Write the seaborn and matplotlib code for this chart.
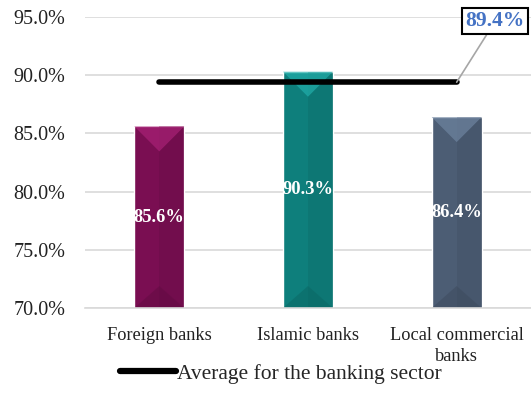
import matplotlib
matplotlib.use("Agg")
import matplotlib.pyplot as plt
import matplotlib.colors as mcolors
from matplotlib.patches import Polygon
from matplotlib.lines import Line2D
import seaborn as sns
import pandas as pd

categories = ["Foreign banks", "Islamic banks", "Local commercial\nbanks"]
values = [85.6, 90.3, 86.4]
sector_average = 89.4
bar_colors = ["#7A0E52", "#0E7F7C", "#4C5D74"]
yticks = [70, 75, 80, 85, 90, 95]

sns.set_theme(style="white")
plt.rcParams["font.family"] = ["Liberation Serif", "DejaVu Serif"]

df = pd.DataFrame({"category": categories, "value": values})

fig = plt.figure(figsize=(5.31, 4.17), dpi=100)
ax = fig.add_axes([0.160, 0.2614, 0.840, 0.6978])

sns.barplot(data=df, x="category", y="value", hue="category",
            palette=bar_colors, width=0.335, ax=ax, legend=False,
            zorder=2, saturation=1)

ax.set_ylim(70, 95)
ax.set_xlim(-0.5, 2.5)
ax.set_yticks(yticks)
ax.set_yticklabels([f"{t:.1f}%" for t in yticks], fontsize=14.5, color="#222222")
ax.set_xticks(range(len(categories)))
ax.set_xticklabels(categories, fontsize=13.2, color="#222222", linespacing=1.3)
ax.tick_params(axis="x", length=0, pad=14)
ax.tick_params(axis="y", length=0, pad=14)
ax.set_xlabel("")
ax.set_ylabel("")
ax.yaxis.grid(True, color="#D9D9D9", linewidth=1.2, zorder=0)
for s in ["top", "right", "left"]:
    ax.spines[s].set_visible(False)
ax.spines["bottom"].set_color("#D9D9D9")
ax.spines["bottom"].set_linewidth(1.2)

# bevelled look for each bar
fig.canvas.draw()
to_data = ax.transData.inverted()
for patch, col in zip(ax.patches, bar_colors):
    x0, w, h = patch.get_x(), patch.get_width(), patch.get_height()
    x1 = x0 + w
    xm = x0 + w / 2
    y0 = 70
    y1 = h
    # bevel depth in display pixels
    py_top = ax.transData.transform((xm, y1))[1]
    py_bot = ax.transData.transform((xm, y0))[1]
    d_top = to_data.transform((0, py_top - 25))[1]
    d_bot = to_data.transform((0, py_bot + 22))[1]
    base = mcolors.to_rgb(col)
    light = tuple(min(1, c * 1.25 + 0.06) for c in base)
    dark = tuple(c * 0.8 for c in base)
    ax.add_patch(Polygon([(xm, y0), (x1, y0), (x1, y1), (xm, y1)],
                         closed=True, facecolor=dark, alpha=0.3,
                         edgecolor="none", zorder=2.1))
    ax.add_patch(Polygon([(x0, y1), (x1, y1), (xm, d_top)], closed=True,
                         facecolor=light, alpha=0.7, edgecolor="none", zorder=2.2))
    ax.add_patch(Polygon([(x0, y0), (x1, y0), (xm, d_bot)], closed=True,
                         facecolor=dark, alpha=0.5, edgecolor="none", zorder=2.2))
    ax.text(xm, (y1 + y0) / 2, f"{y1:.1f}%", ha="center", va="center",
            color="white", fontsize=13.3, fontweight="bold", zorder=4)

# banking sector average line
ax.plot([0, 2], [sector_average, sector_average], color="black",
        linewidth=4, solid_capstyle="round", zorder=3)
ax.annotate(f"{sector_average:.1f}%", xy=(2, sector_average),
            xytext=(2.26, 94.66), textcoords="data",
            ha="center", va="center", fontsize=15.5, fontweight="bold",
            color="#4472C4", annotation_clip=False,
            bbox=dict(boxstyle="square,pad=0.15", facecolor="white",
                      edgecolor="black", linewidth=1.5),
            arrowprops=dict(arrowstyle="-", color="#A6A6A6", linewidth=1.2,
                            shrinkA=0, shrinkB=0), zorder=5)

handle = Line2D([], [], color="black", linewidth=4.5, solid_capstyle="round")
fig.legend([handle], ["Average for the banking sector"], loc="center",
           bbox_to_anchor=(0.529, 0.104), frameon=False, fontsize=15.5,
           handlelength=2.6, handletextpad=0.05)

fig.savefig("out.png", dpi=100)
